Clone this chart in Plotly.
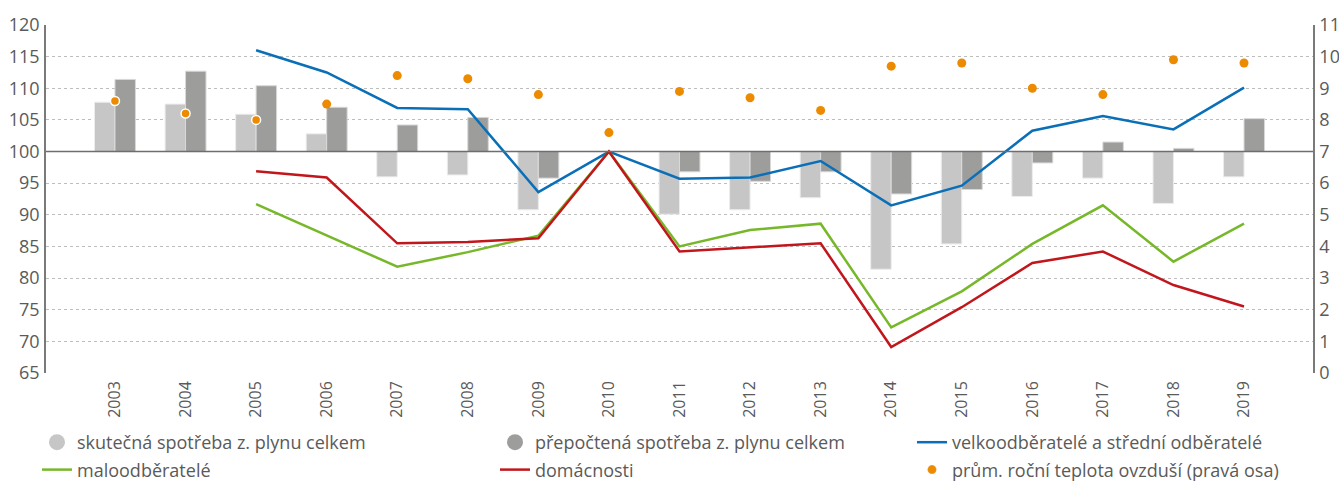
import plotly.graph_objects as go

years = [str(y) for y in range(2003, 2020)]

# index values (2010 = 100)
actual_total = [107.8, 107.5, 105.9, 102.8, 96.0, 96.3, 90.8, 100.0, 90.1, 90.8, 92.7, 81.4, 85.4, 92.9, 95.8, 91.8, 96.0]
adjusted_total = [111.4, 112.7, 110.4, 107.0, 104.2, 105.4, 95.8, 100.0, 96.8, 95.3, 96.8, 93.3, 94.0, 98.2, 101.5, 100.5, 105.2]
large_medium = [None, None, 116.0, 112.5, 106.9, 106.7, 93.6, 100.0, 95.7, 95.9, 98.5, 91.5, 94.6, 103.3, 105.6, 103.5, 110.1]
small = [None, None, 91.7, 86.8, 81.8, 84.1, 86.7, 100.0, 85.0, 87.6, 88.6, 72.2, 77.9, 85.4, 91.5, 82.6, 88.6]
households = [None, None, 96.9, 95.9, 85.5, 85.7, 86.3, 100.0, 84.2, 84.9, 85.5, 69.1, 75.4, 82.4, 84.2, 78.9, 75.5]
temperature = [8.6, 8.2, 8.0, 8.5, 9.4, 9.3, 8.8, 7.6, 8.9, 8.7, 8.3, 9.7, 9.8, 9.0, 8.8, 9.9, 9.8]

names = [
    "skutečná spotřeba z. plynu celkem",
    "přepočtená spotřeba z. plynu celkem",
    "velkoodběratelé a střední odběratelé",
    "maloodběratelé",
    "domácnosti",
    "prům. roční teplota ovzduší (pravá osa)",
]

BASE = 100
C_LIGHT = "#c6c6c6"
C_DARK = "#9d9d9c"
C_BLUE = "#0a6fb7"
C_GREEN = "#77b82a"
C_RED = "#c1161c"
C_ORANGE = "#ec8a00"
FONT = "Open Sans"
TXT = "#5a5a5a"

fig = go.Figure()

fig.add_trace(go.Bar(x=years, y=[v - BASE for v in actual_total], base=BASE,
                     marker=dict(color=C_LIGHT, line=dict(color="#ececec", width=1)),
                     showlegend=False, offsetgroup="a"))
fig.add_trace(go.Bar(x=years, y=[v - BASE for v in adjusted_total], base=BASE,
                     marker=dict(color=C_DARK, line=dict(color="#d8d8d8", width=1)),
                     showlegend=False, offsetgroup="b"))

fig.add_trace(go.Scatter(x=years, y=large_medium, mode="lines", name=names[2],
                         line=dict(color=C_BLUE, width=2.5), legend="legend3",
                         legendrank=1, legendgroup="g1"))
fig.add_trace(go.Scatter(x=years, y=small, mode="lines", name=names[3],
                         line=dict(color=C_GREEN, width=2.5), legend="legend",
                         legendrank=2, legendgroup="g2"))
fig.add_trace(go.Scatter(x=years, y=households, mode="lines", name=names[4],
                         line=dict(color=C_RED, width=2.5), legend="legend2",
                         legendrank=2, legendgroup="g3"))

fig.add_trace(go.Scatter(x=years, y=temperature, mode="markers", name=names[5], yaxis="y2",
                         marker=dict(color=C_ORANGE, size=9,
                                     line=dict(color="white", width=[1.5, 1.5, 1.5] + [0] * 14)),
                         legend="legend3", legendrank=2, legendgroup="g4"))

# legend-only entries with circular symbols for the bar series
fig.add_trace(go.Scatter(x=[None], y=[None], mode="markers", name=names[0],
                         marker=dict(color=C_LIGHT, size=18), legend="legend",
                         legendrank=1, legendgroup="g5"))
fig.add_trace(go.Scatter(x=[None], y=[None], mode="markers", name=names[1],
                         marker=dict(color=C_DARK, size=18), legend="legend2",
                         legendrank=1, legendgroup="g6"))

leg_common = dict(orientation="v", xref="container", yref="container", yanchor="top",
                  xanchor="left", font=dict(family=FONT, size=18, color=TXT),
                  bgcolor="rgba(0,0,0,0)", tracegroupgap=1, itemsizing="trace")

LEG_TOP = 1 - 424 / 481

fig.update_layout(
    width=1339, height=481,
    margin=dict(l=46, r=26, t=25, b=108, autoexpand=False),
    paper_bgcolor="white", plot_bgcolor="white",
    barmode="group", bargap=0.42, bargroupgap=0,
    font=dict(family=FONT, color=TXT),
    xaxis=dict(type="category", tickangle=-90, tickfont=dict(size=16, color=TXT),
               showgrid=False, showline=False, ticks="", ticklabelstandoff=4,
               automargin=False),
    yaxis=dict(range=[65, 120], dtick=5, tickfont=dict(size=18, color=TXT),
               showgrid=True, gridcolor="#bdbdbd", griddash="dot", gridwidth=1,
               zeroline=False, showline=True, linecolor="#7a7a7a", linewidth=1.5,
               ticks="", ticklabelstandoff=1, automargin=False),
    yaxis2=dict(range=[0, 11], dtick=1, overlaying="y", side="right",
                tickfont=dict(size=18, color=TXT), showgrid=False, zeroline=False,
                showline=True, linecolor="#7a7a7a", linewidth=1.5, ticks="",
                ticklabelstandoff=1, automargin=False),
    legend=dict(x=37 / 1339, y=LEG_TOP, **leg_common),
    legend2=dict(x=495 / 1339, y=LEG_TOP, **leg_common),
    legend3=dict(x=912 / 1339, y=LEG_TOP, **leg_common),
    shapes=[dict(type="line", xref="paper", x0=0, x1=1, yref="y", y0=BASE, y1=BASE,
                 line=dict(color="#6e6e6e", width=1.5), layer="above")],
)

fig.write_html("out.html", config={"displayModeBar": False},
               post_script="document.body.style.margin='0';")
